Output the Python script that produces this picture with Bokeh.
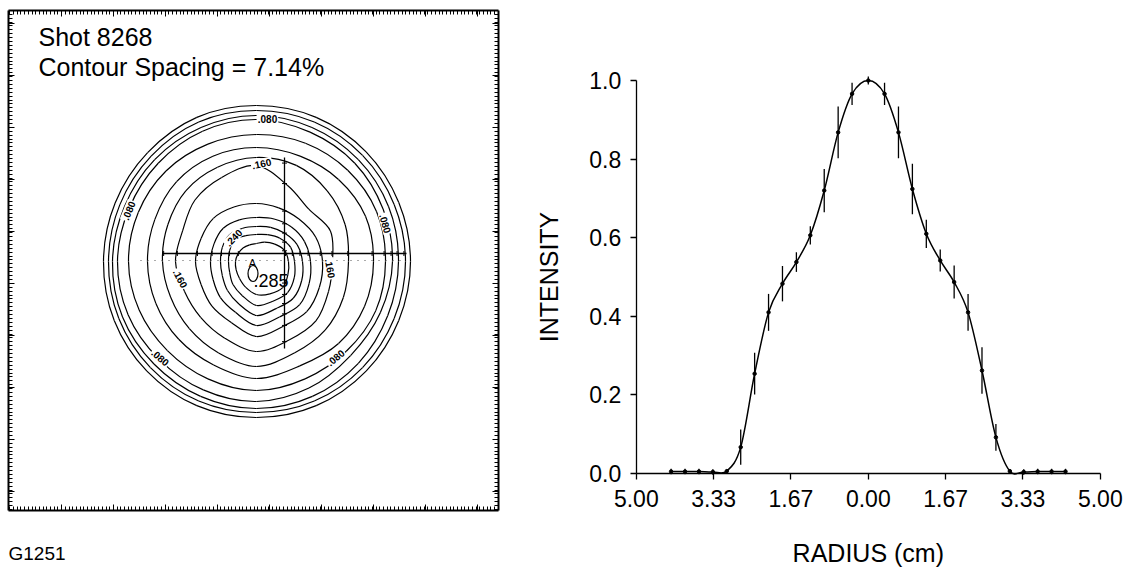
import numpy as np
from bokeh.plotting import figure
from bokeh.layouts import row
from bokeh.models import (Range1d, FixedTicker, LinearAxis, CustomJSTickFormatter,
                          ColumnDataSource)
from bokeh.core.properties import value
from bokeh.embed import file_html
from bokeh.resources import INLINE

FONT = "Liberation Sans"

# ---------------- Right panel: normalised intensity lineout ----------------
radius_cm = [-4.25, -3.95, -3.65, -3.35, -3.05, -2.75, -2.45, -2.15, -1.85, -1.55,
             -1.25, -0.95, -0.65, -0.35, 0.0, 0.35, 0.65, 0.95, 1.25, 1.55,
             1.85, 2.15, 2.45, 2.75, 3.05, 3.35, 3.65, 3.95, 4.25]
intensity = [0.005, 0.005, 0.005, 0.004, 0.006, 0.067, 0.254, 0.410, 0.483, 0.538,
             0.606, 0.720, 0.868, 0.966, 1.000, 0.966, 0.868, 0.724, 0.610, 0.542,
             0.487, 0.410, 0.262, 0.092, 0.006, 0.004, 0.005, 0.005, 0.005]
intensity_err = [0.007, 0.007, 0.007, 0.007, 0.004, 0.045, 0.053, 0.047, 0.045, 0.025,
                 0.023, 0.055, 0.066, 0.028, 0.010, 0.028, 0.066, 0.064, 0.036, 0.028,
                 0.042, 0.047, 0.059, 0.034, 0.004, 0.007, 0.007, 0.007, 0.007]
radius_ticks = [-5.0, -3.333, -1.667, 0.0, 1.667, 3.333, 5.0]
intensity_ticks = [0.0, 0.2, 0.4, 0.6, 0.8, 1.0]

# ---------------- Left panel: contour map (units: image pixels from ring centre) ----
contour_levels = [0.02, 0.04, 0.06, 0.08, 0.10, 0.12, 0.14, 0.16, 0.18, 0.20, 0.22, 0.24, 0.26]
contour_angles_deg = [0, 22.5, 45, 67.5, 90, 112.5, 135, 157.5,
                      180, 202.5, 225, 247.5, 270, 292.5, 315, 337.5]
contour_radii = [
    [154, 154, 155, 156, 156, 156, 154, 153, 153, 154, 155, 156, 156, 156, 155, 154],
    [149, 149, 150, 151, 151, 151, 149, 148, 148, 149, 150, 151, 151, 151, 150, 149],
    [142, 143, 144, 145, 146, 145, 144, 143, 144, 145, 145, 146, 147, 146, 144, 142],
    [136, 137, 139, 140, 142, 141, 139, 138, 139, 139, 138, 139, 140, 137, 133, 134],
    [129, 130, 129, 128, 127, 127, 128, 128, 128, 127, 126, 127, 129, 127, 127, 129],
    [117, 118, 116, 114, 114, 114, 113, 110, 109, 109, 110, 112, 117, 113, 116, 117],
    [92, 96, 100, 104, 104, 102, 100, 96, 94, 93, 95, 99, 105, 99, 97, 94],
    [76, 80, 74, 82, 96, 91, 87, 80, 81, 78, 79, 83, 90, 85, 84, 78],
    [66, 64, 60, 58, 58, 59, 61, 60, 61, 60, 63, 66, 75, 70, 71, 68],
    [54, 52, 49, 46, 44, 45, 47, 46, 46, 47, 51, 55, 64, 60, 61, 57],
    [46, 44, 40, 37, 35, 36, 38, 37, 36, 37, 41, 46, 54, 51, 52, 49],
    [38, 37, 33, 29, 27, 28, 31, 29, 28, 29, 33, 37, 44, 43, 44, 41],
    [32, 30, 25, 21, 18, 18, 19, 20, 21, 22, 24, 28, 33, 35, 37, 34],
]
# innermost (0.28) closed loop at the peak
peak_loop = dict(x=-3.5, y=-12, w=10, h=16)

# detector box edges (same units)
box_left, box_right, box_bottom, box_top = -247.7, 241.7, -249.0, 251.0

lineout_h = dict(x=[-94, 150], y=[8, 8])
lineout_v = dict(x=[28, 28], y=[-87, 104])
dotted_row = dict(x=[-116, 144], y=[1, 1])

contour_label_text = [".080", ".080", ".080", ".080", ".080", ".160", ".160", ".160", ".240"]
contour_label_x = [11, -128, 129, -96, 79, 5, -76, 74, -23]
contour_label_y = [143, 51, 38, -96, -96, 98, -17, -7, 24]
contour_label_angle = [0, 68, -74, -40, 40, 12, -62, -80, 45]


def smooth_segments(px, py, closed):
    """Bezier segments (Catmull-Rom style) through the given vertices."""
    n = len(px)
    out = dict(x0=[], y0=[], x1=[], y1=[], cx0=[], cy0=[], cx1=[], cy1=[])
    last = n if closed else n - 1
    for i in range(last):
        im = (i - 1) % n if closed else max(i - 1, 0)
        ip = (i + 1) % n
        ip2 = (i + 2) % n if closed else min(i + 2, n - 1)
        out["x0"].append(px[i]); out["y0"].append(py[i])
        out["x1"].append(px[ip]); out["y1"].append(py[ip])
        out["cx0"].append(px[i] + (px[ip] - px[im]) / 6.0)
        out["cy0"].append(py[i] + (py[ip] - py[im]) / 6.0)
        out["cx1"].append(px[ip] - (px[ip2] - px[i]) / 6.0)
        out["cy1"].append(py[ip] - (py[ip2] - py[i]) / 6.0)
    return out


def crossings(px, py, horizontal, level, lo, hi):
    """Where a closed ring crosses the lineout line (positions along the line)."""
    out = []
    n = len(px)
    for i in range(n):
        a = (px[i], py[i]); b = (px[(i + 1) % n], py[(i + 1) % n])
        ca, cb = (a[1], b[1]) if horizontal else (a[0], b[0])
        if (ca - level) * (cb - level) < 0:
            t = (level - ca) / (cb - ca)
            pos = (a[0] + t * (b[0] - a[0])) if horizontal else (a[1] + t * (b[1] - a[1]))
            if lo <= pos <= hi:
                out.append(pos)
    return out


# ================= left figure =================
p1 = figure(frame_width=520, frame_height=569,
            x_range=Range1d(-256, 264), y_range=Range1d(-308, 261),
            x_axis_type=None, y_axis_type=None,
            min_border=0, toolbar_location=None, output_backend="svg")
p1.grid.visible = False
p1.outline_line_color = None

tick_minor_x = list(np.arange(box_left + 1, box_right, 3.7))
tick_major_x = list(np.arange(-195, box_right, 52))
tick_minor_y = list(np.arange(box_bottom + 1, box_top, 3.9))
tick_major_y = list(np.arange(-230, box_top, 52))
edges = {"below": box_bottom, "above": box_top, "left": box_left, "right": box_right}
for side, loc in edges.items():
    ax = LinearAxis(fixed_location=loc)
    if side in ("below", "above"):
        ax.ticker = FixedTicker(ticks=tick_major_x, minor_ticks=tick_minor_x)
        ax.bounds = (box_left, box_right)
    else:
        ax.ticker = FixedTicker(ticks=tick_major_y, minor_ticks=tick_minor_y)
        ax.bounds = (box_bottom, box_top)
    ax.formatter = CustomJSTickFormatter(code="return '';")
    ax.major_tick_in = 6
    ax.major_tick_out = 0
    ax.minor_tick_in = 4
    ax.minor_tick_out = 0
    ax.major_tick_line_color = "black"
    ax.minor_tick_line_color = "black"
    ax.major_tick_line_width = 1
    ax.minor_tick_line_width = 1
    ax.major_label_text_font_size = "1px"
    ax.major_label_standoff = 0
    ax.axis_line_color = "black"
    ax.axis_line_width = 2
    p1.add_layout(ax, side)

ang = np.deg2rad(np.array(contour_angles_deg))
tick_h, tick_v = [], []
for radii in contour_radii:
    r = np.array(radii, dtype=float)
    rx, ry = list(r * np.cos(ang)), list(r * np.sin(ang))
    seg = smooth_segments(rx, ry, closed=True)
    p1.bezier(source=ColumnDataSource(seg), x0="x0", y0="y0", x1="x1", y1="y1",
              cx0="cx0", cy0="cy0", cx1="cx1", cy1="cy1",
              line_color="black", line_width=1.2)
    tick_h += crossings(rx, ry, True, lineout_h["y"][0], *lineout_h["x"])
    tick_v += crossings(rx, ry, False, lineout_v["x"][0], *lineout_v["y"])
p1.ellipse(x=peak_loop["x"], y=peak_loop["y"], width=peak_loop["w"], height=peak_loop["h"],
           fill_color=None, line_color="black", line_width=1.2)

p1.line(lineout_h["x"], lineout_h["y"], line_color="black", line_width=1.3)
p1.line(lineout_v["x"], lineout_v["y"], line_color="black", line_width=1.3)
p1.line(dotted_row["x"], dotted_row["y"], line_color="#555555", line_width=1, line_dash="1 6")
# small marks where the contours cross the lineouts
yh = lineout_h["y"][0]
xv = lineout_v["x"][0]
p1.segment(x0=tick_h, y0=[yh - 2.5] * len(tick_h), x1=tick_h, y1=[yh + 2.5] * len(tick_h),
           line_color="black", line_width=1)
p1.segment(x0=[xv - 2.5] * len(tick_v), y0=tick_v, x1=[xv + 2.5] * len(tick_v), y1=tick_v,
           line_color="black", line_width=1)

lab_src = ColumnDataSource(dict(x=contour_label_x, y=contour_label_y,
                                t=contour_label_text, a=contour_label_angle))
p1.text(x="x", y="y", text="t", angle="a", angle_units="deg", source=lab_src,
        text_font=value(FONT), text_font_size="10px", text_font_style="bold",
        text_align="center", text_baseline="middle", text_color="black",
        background_fill_color="white", padding=1)

p1.text(x=[-3], y=[-19], text=[".285"], text_font=value(FONT), text_font_size="18px",
        text_align="left", text_baseline="middle", text_color="black")
p1.text(x=[-4], y=[-1], text=["A"], text_font=value(FONT), text_font_size="11px",
        text_align="center", text_baseline="middle", text_color="black")

p1.text(x=[-218, -218], y=[225, 195], text=["Shot 8268", "Contour Spacing = 7.14%"],
        text_font=value(FONT), text_font_size="25px", text_align="left",
        text_baseline="middle", text_color="black")
p1.text(x=[-248], y=[-292], text=["G1251"], text_font=value(FONT), text_font_size="19px",
        text_align="left", text_baseline="middle", text_color="black")

# ================= right figure =================
# ranges chosen so that x=-5..5 spans px 636..1100 and y=1.0/0.0 sit at px 80/473
p2 = figure(frame_width=616, frame_height=569,
            x_range=Range1d(-7.496, 5.780), y_range=Range1d(-0.2443, 1.2036),
            min_border=0, toolbar_location=None, output_backend="svg")
p2.grid.visible = False
p2.outline_line_color = None

src = ColumnDataSource(dict(
    x=radius_cm, y=intensity,
    lo=[v - e for v, e in zip(intensity, intensity_err)],
    hi=[v + e for v, e in zip(intensity, intensity_err)]))
curve = smooth_segments(radius_cm, intensity, closed=False)
p2.bezier(source=ColumnDataSource(curve), x0="x0", y0="y0", x1="x1", y1="y1",
          cx0="cx0", cy0="cy0", cx1="cx1", cy1="cy1", line_color="black", line_width=1.5)
p2.segment(x0="x", y0="lo", x1="x", y1="hi", source=src, line_color="black", line_width=1.3)
p2.scatter("x", "y", source=src, size=3.5, color="black")

xa = p2.xaxis[0]
xa.ticker = FixedTicker(ticks=radius_ticks, minor_ticks=[])
xa.formatter = CustomJSTickFormatter(code="return Math.abs(tick).toFixed(2);")
xa.fixed_location = 0
xa.bounds = (-5, 5)

ya = p2.yaxis[0]
ya.ticker = FixedTicker(ticks=intensity_ticks, minor_ticks=[])
ya.formatter = CustomJSTickFormatter(code="return tick.toFixed(1);")
ya.fixed_location = -5
ya.bounds = (0, 1)

for ax in (xa, ya):
    ax.major_tick_in = 0
    ax.major_tick_out = 6
    ax.minor_tick_in = 0
    ax.minor_tick_out = 0
    ax.axis_line_color = "black"
    ax.axis_line_width = 1.3
    ax.major_tick_line_color = "black"
    ax.major_tick_line_width = 1.3
    ax.major_label_text_font = FONT
    ax.major_label_text_font_size = "23px"
    ax.major_label_text_color = "black"
ya.major_label_standoff = 9
xa.major_label_standoff = 11

p2.text(x=[0], y=[-0.203], text=["RADIUS (cm)"], text_font=value(FONT),
        text_font_size="25px", text_align="center", text_baseline="middle",
        text_color="black")
p2.text(x=[-6.89], y=[0.5], text=["INTENSITY"], angle=90, angle_units="deg",
        text_font=value(FONT), text_font_size="25px", text_align="center",
        text_baseline="middle", text_color="black")

layout = row(p1, p2)
open("out.html", "w").write(file_html(layout, INLINE))
